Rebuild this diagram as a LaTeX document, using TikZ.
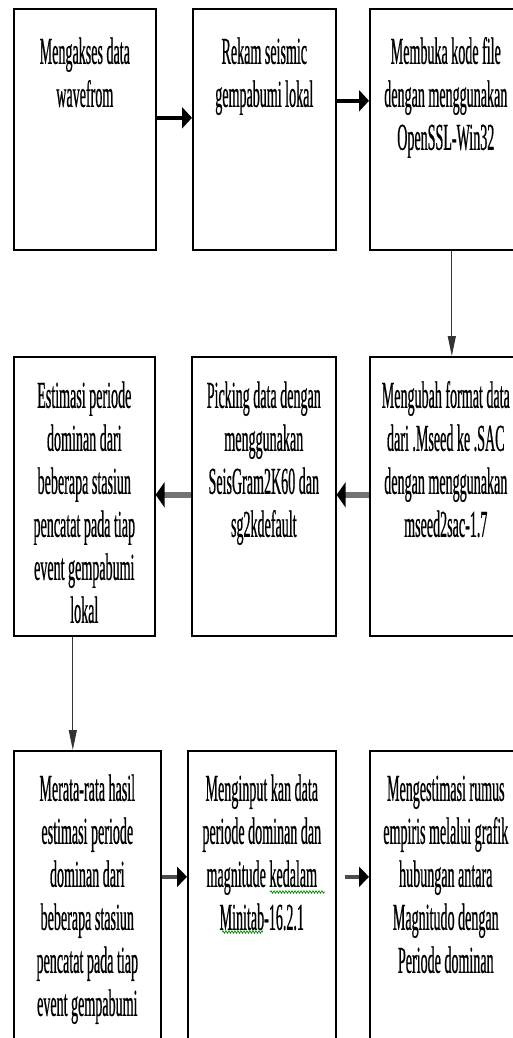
\documentclass[tikz,border=0pt]{standalone}
\usepackage{fontspec}
\setmainfont{Liberation Serif}[FakeStretch=0.37,UprightFeatures={FakeBold=0.5}]
\usetikzlibrary{arrows.meta,decorations.pathmorphing}
\newcommand{\isikotak}[4]{\parbox[c][#1pt][t]{#2pt}{\centering\rule{0pt}{#3pt}#4}}
\begin{document}
\begin{tikzpicture}[x=1pt,y=-1pt,font=\fontsize{38}{43}\selectfont,
    kotak/.style={draw,line width=1.6pt,inner sep=0pt,anchor=north west},
    panahhitam/.style={line width=3.5pt,-{Triangle[length=10pt,width=21pt]}},
    panahabu/.style={line width=6pt,black!55,-{Triangle[length=9pt,width=25pt,black]}},
    panahtipis/.style={line width=1.2pt,black!80,-{Triangle[length=20pt,width=8pt]}},
    panahbawah/.style={line width=4pt,black!70,-{Triangle[length=10pt,width=20pt,black]}},
    gelombang/.style={green!55!black,line width=0.7pt,decorate,decoration={snake,amplitude=1.2pt,segment length=3pt}}]
            \useasboundingbox (0,0) rectangle (513,1038);
            \clip (0,0) rectangle (513,1038);

            \node[kotak] (akses) at (13,8) {\isikotak{241}{142}{55}{Mengakses data\\ wavefrom}};
            \node[kotak] (rekam) at (192,8) {\isikotak{241}{143}{55}{Rekam seismic\\ gempabumi lokal}};
            \node[kotak] (buka) at (369,8) {\isikotak{241}{152}{55}{Membuka kode file\\ dengan menggunakan\\ OpenSSL-Win32}};

            \node[kotak] (estimasi) at (13,356) {\isikotak{279}{141}{51}{Estimasi periode\\ dominan dari\\ beberapa stasiun\\ pencatat pada tiap\\ event gempabumi\\ lokal}};
            \node[kotak] (picking) at (191,356) {\isikotak{279}{144}{51}{Picking data dengan\\ menggunakan\\ SeisGram2K60 dan\\ sg2kdefault}};
            \node[kotak] (ubah) at (369,356) {\isikotak{279}{152}{51}{Mengubah format data\\ dari .Mseed ke .SAC\\ dengan menggunakan\\ mseed2sac-1.7}};

            \node[kotak] (rerata) at (13,750) {\isikotak{300}{147}{50}{Merata-rata hasil\\ estimasi periode\\ dominan dari\\ beberapa stasiun\\ pencatat pada tiap\\ event gempabumi}};
            \node[kotak] (input) at (187,750) {\isikotak{300}{148}{50}{Menginput kan data\\ periode dominan dan\\ magnitude kedalam\\ Minitab-16.2.1}};
            \node[kotak] (rumus) at (369,750) {\isikotak{300}{152}{50}{Mengestimasi rumus\\ empiris melalui grafik\\ hubungan antara\\ Magnitudo dengan\\ Periode dominan}};

            \draw[gelombang] (270,892) -- (325,892);
            \draw[gelombang] (222,932) -- (263,932);

            \draw[panahhitam] ([yshift=11.5pt]akses.east) -- ([yshift=11.5pt]rekam.west);
            \draw[panahhitam] ([yshift=28.5pt]rekam.east) -- ([yshift=28.5pt]buka.west);
            \draw[panahtipis] ([xshift=6pt]buka.south) -- ([xshift=6pt]ubah.north);
            \draw[panahabu] ([yshift=1.5pt]ubah.west) -- ([yshift=1.5pt]picking.east);
            \draw[panahabu] ([yshift=1.5pt]picking.west) -- ([yshift=1.5pt]estimasi.east);
            \draw[panahtipis] ([xshift=-11.5pt]estimasi.south) -- ([xshift=-14.5pt]rerata.north);
            \draw[panahbawah] ([yshift=24pt]rerata.east) -- ([yshift=24pt]input.west);
            \draw[panahbawah] ([xshift=8pt,yshift=24pt]input.east) -- ([yshift=24pt]rumus.west);

        \end{tikzpicture}
\end{document}
